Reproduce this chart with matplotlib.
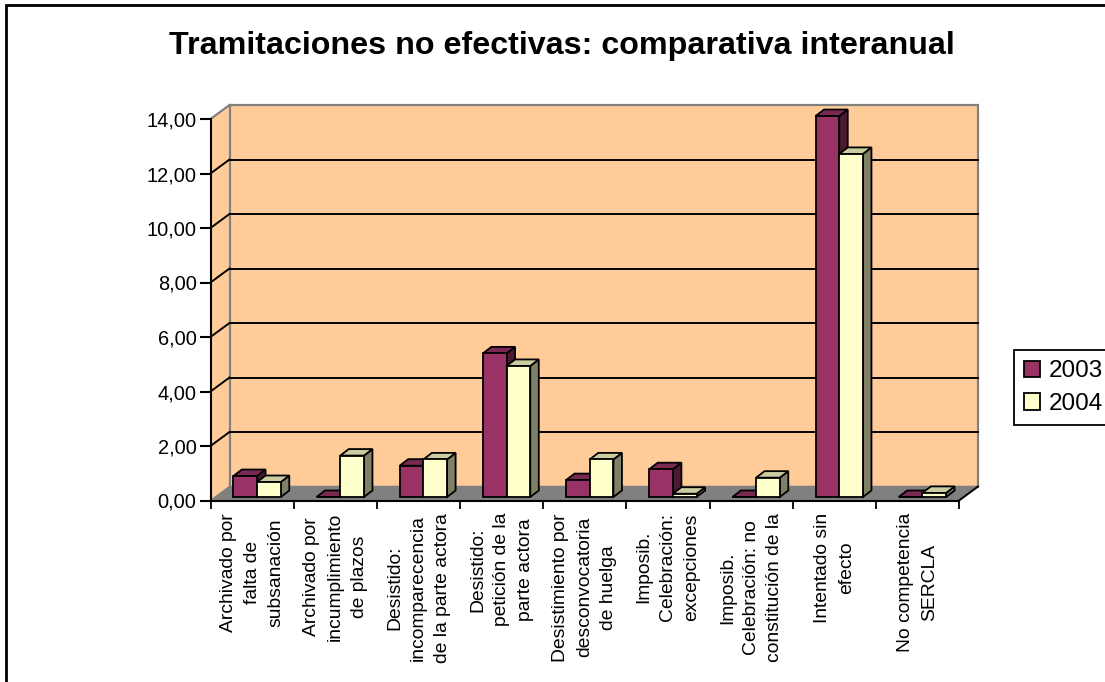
import numpy as np
import matplotlib
matplotlib.use('Agg')
import matplotlib.pyplot as plt
from matplotlib.patches import Polygon, Rectangle, Patch

plt.rcParams['font.family'] = ['Liberation Sans', 'DejaVu Sans']

# data
categories = [
    'Archivado por\nfalta de\nsubsanación',
    'Archivado por\nincumplimiento\nde plazos',
    'Desistido:\nincomparecencia\nde la parte actora',
    'Desistido:\npetición de la\nparte actora',
    'Desistimiento por\ndesconvocatoria\nde huelga',
    'Imposib.\nCelebración:\nexcepciones',
    'Imposib.\nCelebración: no\nconstitución de la',
    'Intentado sin\nefecto',
    'No competencia\nSERCLA',
]
values_2003 = [0.77, 0.00, 1.15, 5.27, 0.62, 1.02, 0.00, 13.98, 0.00]
values_2004 = [0.55, 1.52, 1.38, 4.81, 1.38, 0.12, 0.71, 12.59, 0.15]
series_names = ['2003', '2004']
y_ticks = [0, 2, 4, 6, 8, 10, 12, 14]
y_tick_labels = ['0,00', '2,00', '4,00', '6,00', '8,00', '10,00', '12,00', '14,00']
title = 'Tramitaciones no efectivas: comparativa interanual'

# colours: front, top, side for each series
face_cols = ['#993366', '#FFFFCC']
top_cols = ['#7A2952', '#CCCCA3']
side_cols = ['#4D1A33', '#808066']
wall_col = '#FFCC99'
floor_col = '#808080'

W, H = 1105, 682
fig = plt.figure(figsize=(W / 100, H / 100), dpi=100)
x0, x1, y0, y1 = 210.5, 959, 500.5, 119
ax = fig.add_axes([x0 / W, 1 - y0 / H, (x1 - x0) / W, (y0 - y1) / H])
ax.set_xlim(-0.5, 8.5)
ax.set_ylim(0, 14)
ax.patch.set_visible(False)

px_x = (x1 - x0) / 9
px_y = (y0 - y1) / 14
# depth of the box (wall offset) in data units
wx, wy = 19 / px_x, 14 / px_y
n = len(categories)

# side wall, back wall, floor
ax.add_patch(Polygon([(-0.5, 0), (-0.5 + wx, wy), (-0.5 + wx, 14 + wy), (-0.5, 14)],
                     closed=True, fc=wall_col, ec='none', zorder=0, clip_on=False))
ax.add_patch(Rectangle((-0.5 + wx, wy), n, 14, fc=wall_col, ec='#808080', lw=1.6,
                       zorder=0, clip_on=False))
ax.add_patch(Polygon([(-0.5, 0), (n - 0.5, 0), (n - 0.5 + wx, wy), (-0.5 + wx, wy)],
                     closed=True, fc=floor_col, ec='#808080', lw=1, zorder=1, clip_on=False))
for v in y_ticks[1:-1]:
    ax.plot([-0.5 + wx, n - 0.5 + wx], [v + wy, v + wy], color='black', lw=1.4, zorder=1, clip_on=False)
    ax.plot([-0.5, -0.5 + wx], [v, v + wy], color='black', lw=1.4, zorder=1, clip_on=False)
ax.plot([-0.5, -0.5 + wx], [14, 14 + wy], color='#808080', lw=1.6, zorder=1, clip_on=False)
ax.plot([n - 0.5, n - 0.5 + wx], [0, wy], color='black', lw=1.4, zorder=2, clip_on=False)

# 3d-looking bars
bw = 0.285
base = 3.5 / px_y
ddx, ddy = 8.5 / px_x, 6.5 / px_y
for i in range(n):
    for s, vals in enumerate([values_2003, values_2004]):
        left = i - 0.225 + s * bw
        v = vals[i]
        z = 3 + i * 2 + s
        top = base + v
        ax.add_patch(Polygon([(left + bw, base), (left + bw, top), (left + bw + ddx, top + ddy),
                              (left + bw + ddx, base + ddy)], closed=True, fc=side_cols[s],
                             ec='black', lw=1.3, zorder=z, clip_on=False))
        ax.add_patch(Polygon([(left, top), (left + bw, top), (left + bw + ddx, top + ddy),
                              (left + ddx, top + ddy)], closed=True, fc=top_cols[s],
                             ec='black', lw=1.3, zorder=z, clip_on=False))
        ax.bar(left, v, width=bw, bottom=base, align='edge', color=face_cols[s],
               edgecolor='black', lw=1.3, zorder=z, clip_on=False)

# axes
for side in ['top', 'right']:
    ax.spines[side].set_visible(False)
for side in ['left', 'bottom']:
    ax.spines[side].set_linewidth(1.5)
    ax.spines[side].set_zorder(2.5)
ax.set_yticks(y_ticks, labels=y_tick_labels)
ax.tick_params(axis='y', direction='out', length=8, width=1.5, pad=2, labelsize=14.4)
ax.set_xticks(np.arange(-0.5, n, 1.0), labels=[])
ax.tick_params(axis='x', which='major', direction='out', length=5.5, width=1.3)
ax.set_xticks(np.arange(n), labels=categories, minor=True, rotation=90,
              fontsize=13.9, linespacing=1.52, multialignment='center')
ax.tick_params(axis='x', which='minor', length=0, pad=9)

fig.text(561.7 / W, 1 - 54 / H, title, ha='center', va='baseline',
         fontsize=23.2, fontweight='bold')

handles = [Patch(fc=face_cols[k], ec='black', lw=1.3, label=series_names[k]) for k in range(2)]
leg = fig.legend(handles=handles, loc='upper left', bbox_to_anchor=(1014 / W, 1 - 350 / H),
                 frameon=True, fancybox=False, edgecolor='black', fontsize=17.5,
                 handlelength=0.65, handleheight=0.65, handletextpad=0.35, borderpad=0.42,
                 labelspacing=0.45, borderaxespad=0)
leg.get_frame().set_linewidth(1.3)
leg.get_frame().set_alpha(1)

# outer chart frame (runs off the right and bottom edges)
fig.patches.append(Rectangle((6 / W, -0.05), 1.1, 1 - 5 / H + 0.05, transform=fig.transFigure,
                             fill=False, ec='black', lw=2))

fig.savefig('out.png', dpi=100)
